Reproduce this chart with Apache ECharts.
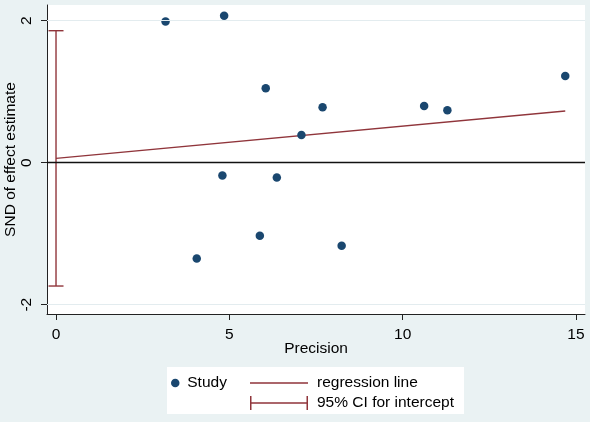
<!DOCTYPE html>
<html>
<head>
<meta charset="utf-8">
<script src="https://cdn.jsdelivr.net/npm/echarts@6/dist/echarts.min.js"></script>
<style>
html,body{margin:0;padding:0;background:#eaf2f3;}
#chart{width:590px;height:422px;}
</style>
</head>
<body>
<div id="chart"></div>
<script>
// Data
const studyPrecision = [3.16, 4.85, 6.05, 7.69, 7.08, 10.62, 11.29, 14.69, 4.80, 6.37, 4.06, 5.88, 8.24];
const studySND = [1.99, 2.07, 1.05, 0.78, 0.39, 0.80, 0.74, 1.22, -0.18, -0.21, -1.35, -1.03, -1.17];
const regressionX = [0, 14.69];
const regressionY = [0.062, 0.728];
const ciIntercept = [0, -1.737, 1.859]; // x, lower, upper
const xTicks = [0, 5, 10, 15];
const yTicks = [-2, 0, 2];
const yGridValues = [-2, 2];
const legendLabels = ['Study', 'regression line', '95% CI for intercept'];

const FONT = '"Liberation Sans", Arial, sans-serif';
const FS = 15.5;
const maroon = '#90353b';
const navy = '#1a476f';

const chart = echarts.init(document.getElementById('chart'));

const option = {
  backgroundColor: '#eaf2f3',
  animation: false,
  textStyle: { fontFamily: FONT },
  grid: {
    left: 47, right: 5, top: 5, bottom: 108,
    containLabel: false, outerBoundsMode: 'none',
    show: true, backgroundColor: '#ffffff', borderWidth: 0
  },
  xAxis: {
    type: 'value', min: -0.26, max: 15.26,
    name: 'Precision', nameLocation: 'middle', nameGap: 27, nameMoveOverlap: false,
    nameTextStyle: { color: '#000', fontSize: FS, fontFamily: FONT },
    axisLine: { show: true, onZero: false, lineStyle: { color: '#222', width: 1 } },
    axisTick: { show: true, length: 6, customValues: xTicks, lineStyle: { color: '#222' } },
    axisLabel: { customValues: xTicks, color: '#000', fontSize: FS, fontFamily: FONT, margin: 13 },
    splitLine: { show: false }
  },
  yAxis: {
    type: 'value', min: -2.131, max: 2.221,
    name: 'SND of effect estimate', nameLocation: 'middle', nameGap: 28, nameMoveOverlap: false,
    nameTextStyle: { color: '#000', fontSize: FS, fontFamily: FONT },
    axisLine: { show: true, onZero: false, lineStyle: { color: '#222', width: 1 } },
    axisTick: { show: true, length: 6, customValues: yTicks, lineStyle: { color: '#222' } },
    axisLabel: { customValues: yTicks, rotate: 90, color: '#000', fontSize: FS, fontFamily: FONT, margin: 12 },
    splitLine: { show: false }
  },
  legend: [
    {
      data: [legendLabels[0]], left: 166, top: 370, selectedMode: false,
      itemWidth: 14, itemHeight: 8.5,
      textStyle: { color: '#000', fontSize: FS, fontFamily: FONT }
    },
    {
      data: [
        { name: legendLabels[1], icon: 'path://M0,0h0.01v0.01h-0.01z M0,6.3h58v1.4h-58z M57.99,13.99h0.01v0.01h-0.01z', itemStyle: { color: maroon } },
        { name: legendLabels[2], icon: 'path://M0,0h1.5v14h-1.5z M0,6.2h58v1.6h-58z M56.5,0h1.5v14h-1.5z', itemStyle: { color: maroon } }
      ],
      orient: 'vertical', left: 245, top: 370, selectedMode: false,
      itemWidth: 58, itemHeight: 14, itemGap: 4,
      textStyle: { color: '#000', fontSize: FS, fontFamily: FONT, padding: [0, 0, 0, 4] }
    }
  ],
  graphic: [
    { type: 'rect', shape: { x: 167, y: 367, width: 297, height: 47 }, style: { fill: '#ffffff' }, z: -1 }
  ],
  series: [
    {
      name: 'gridlines', type: 'line', data: [], silent: true,
      markLine: {
        silent: true, symbol: 'none', label: { show: false },
        lineStyle: { color: '#e3ecef', width: 1.2, type: 'solid' },
        data: yGridValues.map(v => ({ yAxis: v }))
      }
    },
    {
      name: 'zeroline', type: 'line', data: [], silent: true,
      markLine: {
        silent: true, symbol: 'none', label: { show: false },
        lineStyle: { color: '#111', width: 1.3, type: 'solid' },
        data: [{ yAxis: 0 }]
      }
    },
    {
      name: legendLabels[1], type: 'line', symbol: 'none', showSymbol: false,
      data: regressionX.map((x, i) => [x, regressionY[i]]),
      lineStyle: { color: maroon, width: 1.3 }, itemStyle: { color: maroon }, z: 3
    },
    {
      name: legendLabels[2], type: 'custom',
      data: [ciIntercept],
      encode: { x: 0, y: [1, 2] },
      itemStyle: { color: maroon },
      renderItem: function (params, api) {
        const x = api.value(0);
        const lo = api.coord([x, api.value(1)]);
        const hi = api.coord([x, api.value(2)]);
        const w = 7.5;
        const style = { stroke: maroon, lineWidth: 1.4, fill: null };
        return {
          type: 'group',
          children: [
            { type: 'line', shape: { x1: lo[0], y1: lo[1], x2: hi[0], y2: hi[1] }, style: style },
            { type: 'line', shape: { x1: lo[0] - w, y1: lo[1], x2: lo[0] + w, y2: lo[1] }, style: style },
            { type: 'line', shape: { x1: hi[0] - w, y1: hi[1], x2: hi[0] + w, y2: hi[1] }, style: style }
          ]
        };
      },
      z: 3
    },
    {
      name: legendLabels[0], type: 'scatter', symbol: 'circle', symbolSize: 8.5,
      data: studyPrecision.map((x, i) => [x, studySND[i]]),
      itemStyle: { color: navy, opacity: 1 }, z: 4
    }
  ]
};
chart.setOption(option);
</script>
</body>
</html>
